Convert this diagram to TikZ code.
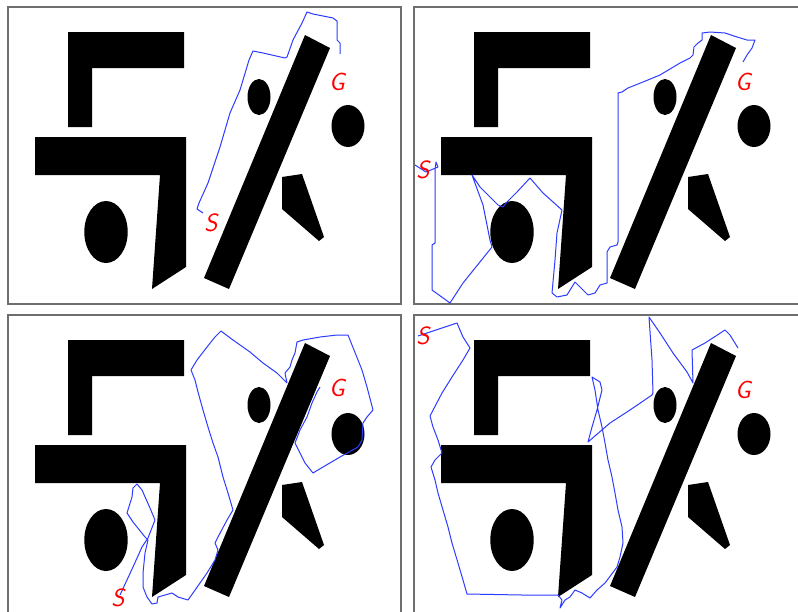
\documentclass[tikz,border=0pt]{standalone}
\tikzset{
  obst/.style={fill=black,draw=none},
  frame/.style={draw={rgb,255:red,110;green,110;blue,110},line width=1.4pt},
  route/.style={draw={rgb,255:red,45;green,60;blue,255},line width=1pt,line join=round},
  lbl/.style={text=red,font=\fontsize{25}{25}\selectfont\sffamily\slshape,inner sep=0pt}
}
\newcommand\obstacles{%
  \fill[obst] (68,32) -- (184,32) -- (184,68) -- (92,68) -- (92,127) -- (68,127) -- cycle;
  \fill[obst] (35,137) -- (186,137) -- (186,267) -- (152,289) -- (160,175) -- (35,175) -- cycle;
  \fill[obst] (106,232) ellipse [x radius=21.7pt, y radius=31pt];
  \fill[obst] (305,35) -- (330,48) -- (229,289) -- (204,278) -- cycle;
  \fill[obst] (259,97) ellipse [x radius=11.5pt, y radius=18pt];
  \fill[obst] (348,126) ellipse [x radius=16.5pt, y radius=21pt];
  \fill[obst] (282,177) -- (302,174) -- (324,237) -- (319,241) -- (282,209) -- cycle;
}
\begin{document}
\begin{tikzpicture}[x=1pt,y=-1pt]
\fill[white] (0,0) rectangle (798,611);
\useasboundingbox (0,0) rectangle (798,611);
\clip (0,0) rectangle (798,611);
% frames
\draw[frame] (8,7) rectangle (401,304);
\draw[frame] (414,7) rectangle (810,304);
\draw[frame] (8,315) rectangle (401,620);
\draw[frame] (414,315) rectangle (810,620);
% obstacles
\obstacles
\begin{scope}[shift={(406,0)}]\obstacles\end{scope}
\begin{scope}[shift={(0,308)}]\obstacles\end{scope}
\begin{scope}[shift={(406,308)}]\obstacles\end{scope}
% routes
\draw[route] (203,213) -- (197,209) -- (199,203) -- (208,183) -- (220,147) -- (230,113) -- (240,90) -- (249,60) -- (253,51) -- (263,53) -- (285,58) -- (287,57) -- (293,40) -- (302,23) -- (307,12) -- (313,14) -- (333,18) -- (337,21) -- (337,40) -- (340,43) -- (340,54);
\draw[route] (415,165) -- (426,172) -- (438,167) -- (436,162) -- (435,170) -- (435,243) -- (432,245) -- (432,290) -- (450,303) -- (463,283) -- (492,247) -- (490,240) -- (483,205) -- (472,175) -- (480,187) -- (498,205) -- (503,207) -- (507,202) -- (517,192) -- (530,178) -- (543,193) -- (562,210) -- (557,233) -- (555,260) -- (552,293) -- (557,297) -- (567,295) -- (575,282) -- (583,290) -- (588,295) -- (595,293) -- (600,285) -- (607,283) -- (607,252) -- (610,247) -- (617,245) -- (618,242) -- (618,93) -- (622,92) -- (628,88) -- (643,82) -- (660,75) -- (680,63) -- (690,58) -- (693,55) -- (694,47) -- (698,43) -- (702,40) -- (702,33) -- (710,32) -- (725,33) -- (737,37) -- (747,40) -- (755,40) -- (752,48) -- (747,55) -- (743,62);
\draw[route] (120,595) -- (133,567) -- (142,547) -- (148,538) -- (155,520) -- (150,508) -- (142,490) -- (137,484) -- (133,488) -- (132,497) -- (127,513) -- (133,522) -- (145,537) -- (148,540) -- (145,553) -- (143,573) -- (143,587) -- (147,597) -- (152,604) -- (157,603) -- (158,597) -- (165,595) -- (172,593) -- (178,597) -- (188,600) -- (193,593) -- (200,583) -- (207,573) -- (215,560) -- (218,550) -- (215,543) -- (218,537) -- (227,520) -- (233,510) -- (228,493) -- (223,477) -- (218,457) -- (213,443) -- (208,427) -- (203,410) -- (198,392) -- (195,380) -- (191,370) -- (197,360) -- (207,347) -- (215,337) -- (221,331) -- (233,340) -- (250,352) -- (263,363) -- (277,373) -- (287,383) -- (285,373) -- (290,367) -- (292,360) -- (295,353) -- (297,342) -- (303,340) -- (320,337) -- (337,335) -- (348,335) -- (352,345) -- (354,350) -- (362,370) -- (367,387) -- (373,410) -- (367,417) -- (363,423) -- (362,440) -- (358,447) -- (340,457) -- (323,467) -- (313,473) -- (305,463) -- (295,443) -- (300,430) -- (307,417) -- (312,403) -- (317,392) -- (320,387);
\draw[route] (418,336) -- (427,333) -- (457,323) -- (463,337) -- (470,348) -- (463,360) -- (452,377) -- (442,393) -- (430,416) -- (433,427) -- (438,440) -- (442,453) -- (435,460) -- (431,467) -- (435,480) -- (438,493) -- (443,510) -- (448,527) -- (452,543) -- (458,563) -- (463,580) -- (467,594) -- (522,595) -- (558,595) -- (562,600) -- (560,608) -- (565,600) -- (570,597) -- (575,590) -- (582,593) -- (590,598) -- (597,590) -- (605,583) -- (617,567) -- (620,557) -- (623,543) -- (622,527) -- (618,510) -- (615,493) -- (612,477) -- (608,460) -- (605,443) -- (602,427) -- (598,410) -- (595,390) -- (592,377) -- (600,382) -- (602,390) -- (597,410) -- (592,427) -- (588,442) -- (610,423) -- (630,410) -- (652,395) -- (653,393) -- (652,360) -- (649,317) -- (660,333) -- (673,353) -- (687,372) -- (693,383) -- (692,350) -- (705,343) -- (725,330) -- (730,335) -- (738,348);
% labels
\node[lbl] (s1) at (211,223) {S};
\node[lbl] (g1) at (337,82) {G};
\node[lbl] (s2) at (423,170) {S};
\node[lbl] (g2) at (743,82) {G};
\node[lbl] (s3) at (118,598) {S};
\node[lbl] (g3) at (337,388) {G};
\node[lbl] (s4) at (423,336) {S};
\node[lbl] (g4) at (743,390) {G};
\end{tikzpicture}
\end{document}
